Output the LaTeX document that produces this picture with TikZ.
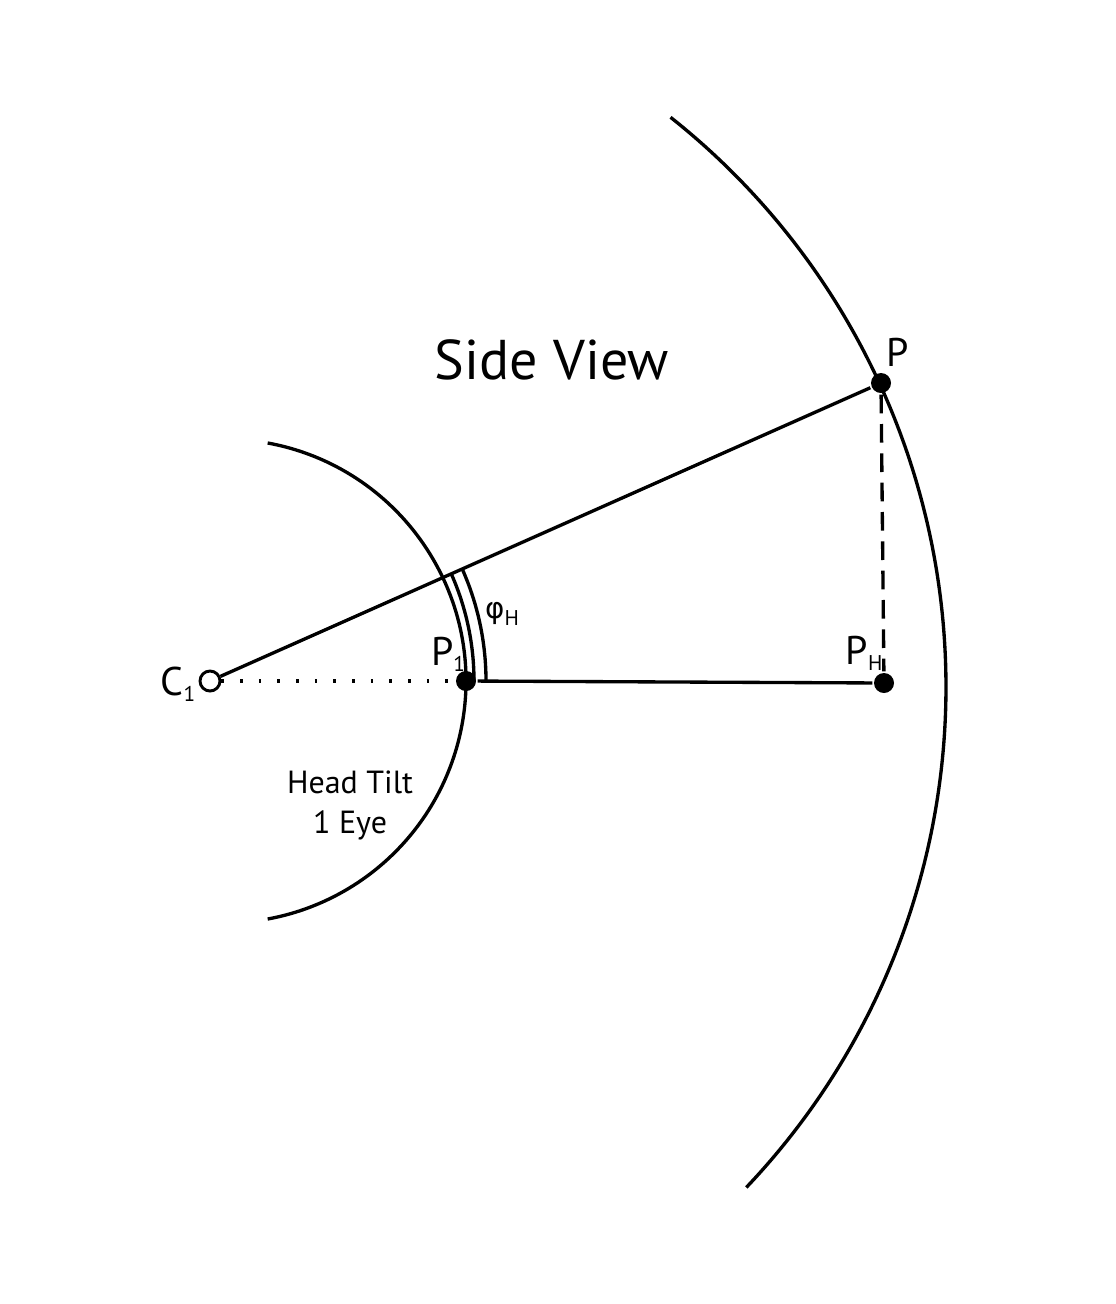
\documentclass[tikz,border=0pt]{standalone}
\usepackage{fontspec}
\setmainfont{PT Sans}
\newfontfamily\greekfont{DejaVu Sans}
\tikzset{every picture/.style={line width=2.5pt}}
\tikzset{dot/.style={circle,fill=black,inner sep=0pt,minimum size=15pt},
  odot/.style={circle,draw,fill=white,inner sep=0pt,minimum size=15pt,line width=2.2pt},
  lbl/.style={inner sep=0.75pt,font=\fontsize{30}{34}\selectfont}}
\begin{document}
\begin{tikzpicture}[x=0.75pt,y=0.75pt,yscale=-1,xscale=1]
\useasboundingbox (0,0) rectangle (1115,1304);

%Shape: Arc [id:small]
\draw (224,681) ++(-79.6:242) arc (-79.6:79.6:242);
%Shape: Arc [id:big]
\draw (219,687) ++(-51.6:727) arc (-51.6:43.5:727);

% Points
\node [odot] (C1) at (210,681) {};
\node [dot] (P1) at (466,681) {};
\node [dot] (P) at (881,383) {};
\node [dot] (PH) at (884,683) {};

%Straight Lines
\draw [dash pattern={on 2pt off 12pt}] (C1) -- (P1);
\draw (C1) -- (P);
\draw (P1) -- (PH);
\draw [dash pattern={on 14pt off 8pt}] (P) -- (PH);

%Shape: Arc [id:angle]
\draw (210,681) ++(-23.9:264) arc (-23.9:0:264);
\draw (210,681) ++(-23.9:276) arc (-23.9:0:276);

% Text Node
\node [lbl,font=\fontsize{42}{48}\selectfont] (title) at (552,360) {Side View};
% Text Node
\node [lbl,font=\fontsize{24}{30}\selectfont,align=center] (tilt) at (350,805) {Head Tilt\\1 Eye};
% Text Node
\node [lbl,anchor=east] (lC) at (198,684) {C\raisebox{-0.3ex}{\fontsize{16}{18}\selectfont 1}};
% Text Node
\node [lbl] (lP1) at (448,654) {P\raisebox{-0.3ex}{\fontsize{16}{18}\selectfont 1}};
% Text Node
\node [lbl] (lP) at (898,352) {P};
% Text Node
\node [lbl] (lPH) at (864,653) {P\raisebox{-0.3ex}{\fontsize{16}{18}\selectfont H}};
% Text Node
\node [lbl,font=\fontsize{22}{28}\selectfont] (lphi) at (502,614) {{\greekfont φ}\raisebox{-0.5ex}{\fontsize{16}{18}\selectfont H}};

\end{tikzpicture}
\end{document}
